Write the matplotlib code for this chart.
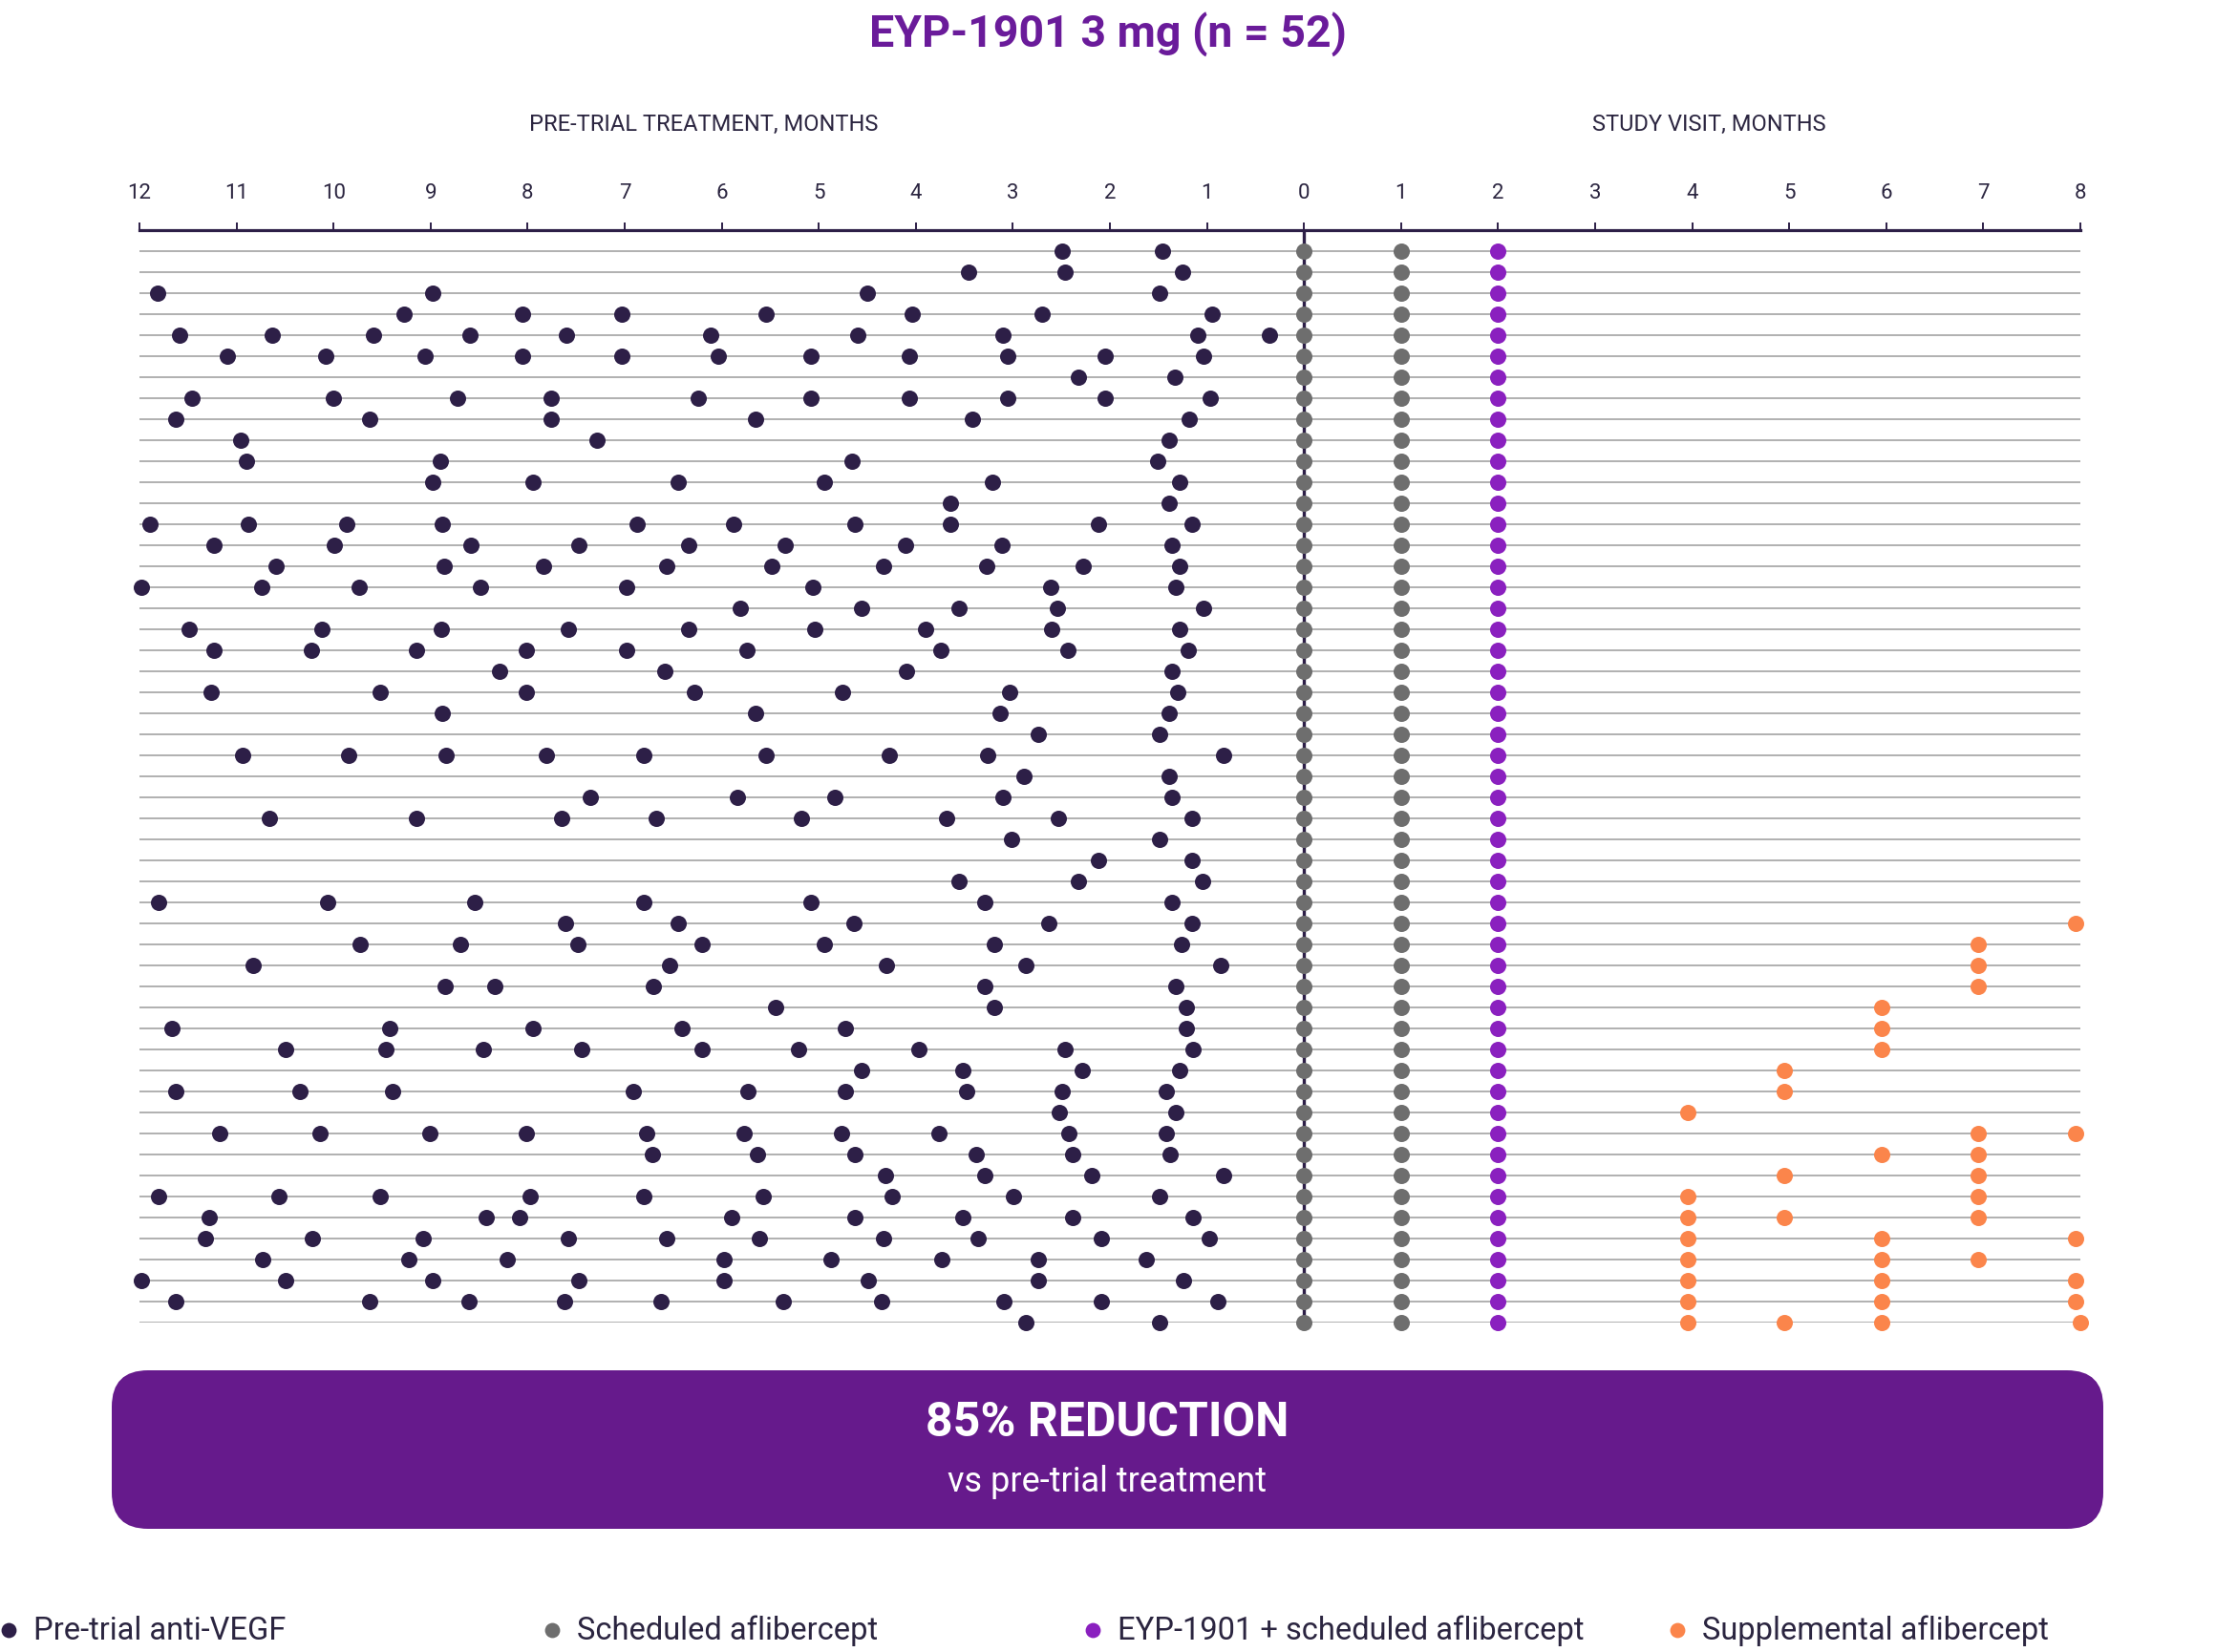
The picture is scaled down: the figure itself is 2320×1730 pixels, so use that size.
import matplotlib.pyplot as plt
from matplotlib.patches import FancyBboxPatch

plt.rcParams['font.family'] = ['Roboto', 'DejaVu Sans']

# months before study start at which each patient had a pre-trial injection (row 1 = top)
pretrial = [
    [2.49, 1.46],
    [3.46, 2.46, 1.25],
    [11.81, 8.98, 4.50, 1.49],
    [9.27, 8.05, 7.03, 5.54, 4.04, 2.70, 0.95],
    [11.59, 10.63, 9.59, 8.59, 7.60, 6.11, 4.60, 3.10, 1.09, 0.36],
    [11.09, 10.08, 9.06, 8.05, 7.03, 6.04, 5.08, 4.07, 3.05, 2.05, 1.04],
    [2.32, 1.33],
    [11.46, 10.00, 8.72, 7.76, 6.24, 5.08, 4.07, 3.05, 2.05, 0.97],
    [11.63, 9.63, 7.76, 5.65, 3.42, 1.18],
    [10.96, 7.29, 1.39],
    [10.90, 8.90, 4.66, 1.51],
    [8.98, 7.94, 6.45, 4.94, 3.21, 1.28],
    [3.64, 1.39],
    [11.89, 10.88, 9.86, 8.88, 6.87, 5.88, 4.63, 3.64, 2.12, 1.15],
    [11.23, 9.99, 8.58, 7.47, 6.34, 5.35, 4.11, 3.11, 1.36],
    [10.59, 8.86, 7.84, 6.57, 5.48, 4.33, 3.27, 2.28, 1.28],
    [11.98, 10.74, 9.74, 8.49, 6.98, 5.06, 2.61, 1.32],
    [5.81, 4.56, 3.56, 2.54, 1.04],
    [11.49, 10.12, 8.89, 7.58, 6.34, 5.04, 3.90, 2.60, 1.28],
    [11.23, 10.23, 9.15, 8.01, 6.98, 5.74, 3.74, 2.43, 1.19],
    [8.29, 6.59, 4.10, 1.36],
    [11.26, 9.52, 8.01, 6.28, 4.76, 3.03, 1.30],
    [8.88, 5.65, 3.13, 1.39],
    [2.74, 1.49],
    [10.94, 9.84, 8.84, 7.81, 6.80, 5.54, 4.27, 3.26, 0.83],
    [2.89, 1.39],
    [7.35, 5.84, 4.83, 3.10, 1.36],
    [10.66, 9.15, 7.65, 6.68, 5.18, 3.68, 2.53, 1.15],
    [3.01, 1.49],
    [2.12, 1.15],
    [3.56, 2.32, 1.05],
    [11.80, 10.06, 8.55, 6.80, 5.08, 3.29, 1.36],
    [7.61, 6.45, 4.64, 2.63, 1.15],
    [9.73, 8.69, 7.48, 6.20, 4.94, 3.19, 1.26],
    [10.83, 6.54, 4.30, 2.87, 0.86],
    [8.85, 8.34, 6.70, 3.29, 1.32],
    [5.44, 3.19, 1.21],
    [11.67, 9.42, 7.94, 6.41, 4.73, 1.21],
    [10.49, 9.46, 8.46, 7.44, 6.20, 5.21, 3.97, 2.46, 1.14],
    [4.56, 3.52, 2.29, 1.28],
    [11.63, 10.35, 9.39, 6.91, 5.73, 4.73, 3.48, 2.49, 1.42],
    [2.52, 1.32],
    [11.17, 10.14, 9.01, 8.01, 6.77, 5.77, 4.77, 3.76, 2.42, 1.42],
    [6.71, 5.63, 4.63, 3.38, 2.38, 1.38],
    [4.31, 3.29, 2.19, 0.83],
    [11.80, 10.56, 9.52, 7.97, 6.80, 5.57, 4.24, 2.99, 1.49],
    [11.28, 8.43, 8.08, 5.90, 4.63, 3.52, 2.38, 1.14],
    [11.32, 10.22, 9.08, 7.58, 6.57, 5.61, 4.33, 3.36, 2.09, 0.98],
    [10.73, 9.22, 8.21, 5.98, 4.87, 3.73, 2.74, 1.63],
    [11.98, 10.49, 8.98, 7.47, 5.98, 4.49, 2.74, 1.24],
    [11.63, 9.63, 8.60, 7.62, 6.63, 5.37, 4.35, 3.09, 2.09, 0.89],
    [2.87, 1.49],
]

# study visits, same for every patient
scheduled_visits = [0, 1]
eyp_visits = [2]

# supplemental aflibercept (row number -> study months)
supp_rows = [33, 34, 35, 36, 37, 38, 39, 40, 41, 42,
             43, 44, 45, 46, 47, 48, 49, 50, 51, 52]
supp_months = [
    [7.95], [6.95], [6.95], [6.95], [5.95], [5.95], [5.95], [4.95], [4.95], [3.95],
    [6.95, 7.95], [5.95, 6.95], [4.95, 6.95], [3.95, 6.95], [3.95, 4.95, 6.95],
    [3.95, 5.95, 7.95], [3.95, 5.95, 6.95], [3.95, 5.95, 7.95], [3.95, 5.95, 7.95],
    [3.95, 4.95, 5.95, 8.0],
]

tick_values = list(range(-12, 9))
tick_labels = [str(abs(t)) for t in tick_values]

legend_labels = ['Pre-trial anti-VEGF', 'Scheduled aflibercept',
                 'EYP-1901 + scheduled aflibercept', 'Supplemental aflibercept']

NAVY = '#2d1f47'
INK = '#2b2540'
GREY = '#6e6e6e'
VIOLET = '#8a20bf'
ORANGE = '#fb854b'
PLUM = '#661a8c'

W, H = 2320, 1730
fig = plt.figure(figsize=(W / 100, H / 100), dpi=100)

ax = fig.add_axes([146 / W, 1 - 1385 / H, (2178 - 146) / W, (1385 - 241) / H])
n = len(pretrial)
rows = list(range(1, n + 1))
ax.set_xlim(-12, 8)
ax.set_ylim(n, 0)

ax.hlines(rows, -12, 8, color='#a3a3a3', lw=1.2, zorder=1)
ax.vlines(0, 0, n, color=NAVY, lw=2.4, zorder=2)

dot = 150
for r, months in zip(rows, pretrial):
    ax.scatter([-m for m in months], [r] * len(months), s=dot, color=NAVY,
               linewidths=0, zorder=3, clip_on=False)
for v in scheduled_visits:
    ax.scatter([v] * n, rows, s=dot, color=GREY, linewidths=0, zorder=3, clip_on=False)
for v in eyp_visits:
    ax.scatter([v] * n, rows, s=dot, color=VIOLET, linewidths=0, zorder=3, clip_on=False)
for r, months in zip(supp_rows, supp_months):
    ax.scatter(months, [r] * len(months), s=dot, color=ORANGE,
               linewidths=0, zorder=3, clip_on=False)

for side in ['left', 'right', 'bottom']:
    ax.spines[side].set_visible(False)
ax.spines['top'].set_linewidth(2.3)
ax.spines['top'].set_color(NAVY)
ax.xaxis.set_ticks_position('top')
ax.set_xticks(tick_values)
ax.set_xticklabels(tick_labels, fontsize=16, fontweight='normal', color=INK)
ax.tick_params(axis='x', direction='out', length=6, width=1.4, color=NAVY, pad=14)
ax.set_yticks([])

# overlay in pixel units for title, banner and legend
ov = fig.add_axes([0, 0, 1, 1])
ov.set_xlim(0, W)
ov.set_ylim(H, 0)
ov.axis('off')

ov.text(1160, 36, 'EYP-1901 3 mg (n = 52)', ha='center', va='center',
        fontsize=33.5, fontweight='bold', color='#6a1b9a')
ov.text(737, 130, 'PRE-TRIAL TREATMENT, MONTHS', ha='center', va='center',
        fontsize=17, fontweight='normal', color=INK)
ov.text(1789, 130, 'STUDY VISIT, MONTHS', ha='center', va='center',
        fontsize=17, fontweight='normal', color=INK)

ov.add_patch(FancyBboxPatch((117, 1435), 2085, 166,
                            boxstyle='round,pad=0,rounding_size=38',
                            fc=PLUM, ec='none'))
ov.text(1159, 1491, '85% REDUCTION', ha='center', va='center',
        fontsize=36, fontweight='bold', color='white')
ov.text(1159, 1552, 'vs pre-trial treatment', ha='center', va='center',
        fontsize=26, fontweight='normal', color='white')

legend_x = [9, 578, 1144, 1756]
legend_colors = [NAVY, GREY, VIOLET, ORANGE]
for lx, c, lab in zip(legend_x, legend_colors, legend_labels):
    ov.scatter([lx], [1707], s=130, color=c, linewidths=0, clip_on=False)
    ov.text(lx + 26, 1708, lab, ha='left', va='center',
            fontsize=23.5, fontweight='normal', color=INK)

fig.savefig('out.png', dpi=100)
